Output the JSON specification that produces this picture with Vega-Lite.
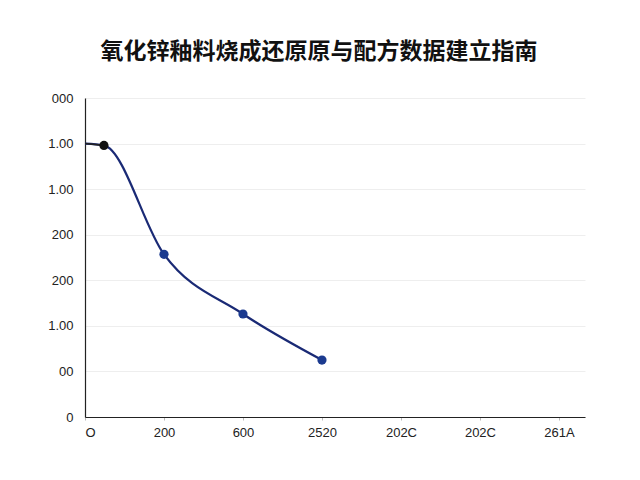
{
  "$schema": "https://vega.github.io/schema/vega-lite/v6.json",
  "autosize": "none",
  "width": 500,
  "height": 319,
  "padding": {"left": 85, "top": 98, "right": 55, "bottom": 63},
  "background": "white",
  "title": {
    "text": "氧化锌釉料烧成还原原与配方数据建立指南",
    "font": "Noto Sans CJK SC",
    "fontSize": 23,
    "fontWeight": "bold",
    "color": "#111111",
    "anchor": "middle",
    "dx": -16,
    "offset": 28
  },
  "datasets": {
    "series": [
      {"step": 0, "value": 6.0},
      {"step": 0.24, "value": 5.96},
      {"step": 1.0, "value": 3.57},
      {"step": 2.0, "value": 2.26},
      {"step": 3.0, "value": 1.25}
    ]
  },
  "data": {"name": "series"},
  "encoding": {
    "x": {
      "field": "step",
      "type": "quantitative",
      "scale": {"domain": [0, 6.33], "nice": false, "zero": false},
      "axis": {
        "values": [0, 1, 2, 3, 4, 5, 6],
        "labelExpr": "['O','200','600','2520','202C','202C','261A'][datum.value]",
        "grid": false,
        "title": null,
        "domainColor": "#222222",
        "domainWidth": 1.2,
        "tickColor": "#bbbbbb",
        "tickSize": 3,
        "labelFont": "Liberation Sans",
        "labelFontSize": 13,
        "labelColor": "#222222",
        "labelPadding": 6
      }
    },
    "y": {
      "field": "value",
      "type": "quantitative",
      "scale": {"domain": [0, 7], "nice": false},
      "axis": {
        "values": [0, 1, 2, 3, 4, 5, 6, 7],
        "labelExpr": "['0','00','1.00','200','200','1.00','1.00','000'][datum.value]",
        "grid": true,
        "gridColor": "#eeeeee",
        "gridWidth": 1,
        "ticks": false,
        "title": null,
        "domainColor": "#222222",
        "domainWidth": 1.2,
        "labelFont": "Liberation Sans",
        "labelFontSize": 13,
        "labelColor": "#222222",
        "labelPadding": 12
      }
    }
  },
  "layer": [
    {
      "mark": {"type": "line", "interpolate": "monotone", "color": "#1a2a75", "strokeWidth": 2.2}
    },
    {
      "transform": [{"filter": "datum.step < 0.5"}],
      "mark": {"type": "line", "color": "#222222", "strokeWidth": 1.6},
      "encoding": {}
    },
    {
      "transform": [{"filter": "datum.step > 0"}],
      "mark": {"type": "point", "filled": true, "size": 85, "opacity": 1},
      "encoding": {
        "color": {
          "condition": {"test": "datum.step < 0.5", "value": "#111111"},
          "value": "#1b3a8f"
        }
      }
    }
  ],
  "config": {
    "view": {"stroke": null}
  }
}
